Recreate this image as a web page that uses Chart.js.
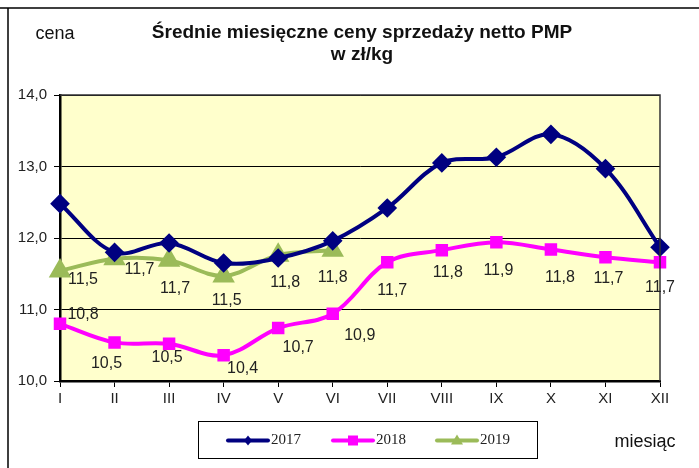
<!DOCTYPE html>
<html>
<head>
<meta charset="utf-8">
<script src="https://cdn.jsdelivr.net/npm/chart.js@4/dist/chart.umd.min.js"></script>
<style>
  html, body { margin: 0; padding: 0; background: #fff; }
  #wrap { width: 699px; height: 468px; position: relative; }
</style>
</head>
<body>
<div id="wrap"><canvas id="wykres" width="699" height="468"></canvas></div>
<script>
// dane
const miesiace = ["I", "II", "III", "IV", "V", "VI", "VII", "VIII", "IX", "X", "XI", "XII"];
const ceny2017 = [12.48, 11.80, 11.93, 11.65, 11.72, 11.96, 12.42, 13.05, 13.13, 13.45, 12.97, 11.87];
const ceny2018 = [10.80, 10.54, 10.52, 10.36, 10.74, 10.94, 11.66, 11.83, 11.94, 11.84, 11.73, 11.66];
const ceny2019 = [11.54, 11.71, 11.69, 11.47, 11.76, 11.83];
const lata = ["2017", "2018", "2019"];
const osY = { min: 10, max: 14, krok: 1 };

const fmt = v => v.toFixed(1).replace(".", ",");

// przesuniecia etykiet (jak w oryginale z Excela)
const przesuniecia = {
  1: [[23,-9],[-8,21],[-2,14],[19,13],[20,20],[27,22],[5,28],[6,22],[2,28],[9,28],[3,21],[0,25]],
  2: [[23,9],[25,11],[6,28],[3,25],[7,27],[0,27]]
};

const dekoracje = {
  id: "dekoracje",
  beforeDraw(chart) {
    const { ctx, chartArea: a } = chart;
    ctx.save();
    ctx.fillStyle = "#fff";
    ctx.fillRect(0, 0, chart.width, chart.height);
    // ramka zewnetrzna
    ctx.strokeStyle = "#000";
    ctx.lineWidth = 1.5;
    ctx.beginPath();
    ctx.moveTo(0, 8); ctx.lineTo(chart.width, 8);
    ctx.moveTo(8, 8); ctx.lineTo(8, chart.height);
    ctx.stroke();
    // tlo obszaru wykresu
    ctx.fillStyle = "#FFFFCC";
    ctx.fillRect(a.left, a.top, a.right - a.left, a.bottom - a.top);
    ctx.restore();
  },
  afterDatasetsDraw(chart) {
    const { ctx, chartArea: a } = chart;
    ctx.save();
    // prawa i gorna krawedz
    ctx.strokeStyle = "#333";
    ctx.lineWidth = 1.5;
    ctx.beginPath();
    ctx.moveTo(a.left, a.top); ctx.lineTo(a.right, a.top); ctx.lineTo(a.right, a.bottom);
    ctx.stroke();
    // etykiety danych
    ctx.font = "16px 'Liberation Sans', Arial, sans-serif";
    ctx.fillStyle = "#222";
    ctx.textAlign = "center";
    ctx.textBaseline = "middle";
    [1, 2].forEach(di => {
      const meta = chart.getDatasetMeta(di);
      meta.data.forEach((pt, i) => {
        const [dx, dy] = przesuniecia[di][i];
        ctx.fillText(fmt(chart.data.datasets[di].data[i]), pt.x + dx, pt.y + dy);
      });
    });
    // tytul
    ctx.fillStyle = "#111";
    ctx.font = "bold 19px 'Liberation Sans', Arial, sans-serif";
    ctx.fillText("Średnie miesięczne ceny sprzedaży netto PMP", 362, 33);
    ctx.fillText("w zł/kg", 362, 55);
    ctx.font = "18px 'Liberation Sans', Arial, sans-serif";
    ctx.fillText("cena", 55, 34);
    ctx.fillText("miesiąc", 645, 442);
    // legenda
    const lx = 198, ly = 421, lw = 339, lh = 37;
    ctx.fillStyle = "#fff";
    ctx.fillRect(lx, ly, lw, lh);
    ctx.strokeStyle = "#000";
    ctx.lineWidth = 1;
    ctx.strokeRect(lx + 0.5, ly + 0.5, lw, lh);
    const cy = ly + lh / 2 + 1;
    const startX = [228, 333, 437];
    chart.data.datasets.forEach((ds, i) => {
      const x0 = startX[i];
      ctx.strokeStyle = ds.borderColor;
      ctx.lineWidth = 4;
      ctx.lineCap = "round";
      ctx.beginPath(); ctx.moveTo(x0, cy); ctx.lineTo(x0 + 40, cy); ctx.stroke();
      ctx.fillStyle = ds.borderColor;
      const mx = x0 + 20;
      ctx.beginPath();
      if (ds.pointStyle === "rectRot") {
        ctx.moveTo(mx, cy - 5); ctx.lineTo(mx + 4, cy); ctx.lineTo(mx, cy + 5); ctx.lineTo(mx - 4, cy);
      } else if (ds.pointStyle === "rect") {
        ctx.rect(mx - 5, cy - 5, 10, 10);
      } else {
        ctx.moveTo(mx, cy - 6); ctx.lineTo(mx + 6, cy + 4); ctx.lineTo(mx - 6, cy + 4);
      }
      ctx.fill();
      ctx.fillStyle = "#222";
      ctx.font = "15px 'Liberation Serif', 'Times New Roman', serif";
      ctx.textAlign = "left";
      ctx.fillText(ds.label, x0 + 43, cy);
    });
    ctx.restore();
  }
};

new Chart(document.getElementById("wykres"), {
  type: "line",
  data: {
    labels: miesiace,
    datasets: [
      {
        label: lata[0],
        data: ceny2017,
        borderColor: "#000080",
        backgroundColor: "#000080",
        borderWidth: 4,
        pointStyle: "rectRot",
        pointRadius: 7,
        tension: 0.35
      },
      {
        label: lata[1],
        data: ceny2018,
        borderColor: "#FF00FF",
        backgroundColor: "#FF00FF",
        borderWidth: 4,
        pointStyle: "rect",
        pointRadius: 6,
        tension: 0.35
      },
      {
        label: lata[2],
        data: ceny2019,
        borderColor: "#9BBB59",
        backgroundColor: "#9BBB59",
        borderWidth: 4,
        pointStyle: "triangle",
        pointRadius: 9,
        tension: 0.35
      }
    ]
  },
  options: {
    responsive: false,
    animation: false,
    layout: { padding: { top: 95, right: 39, bottom: 57, left: 0 } },
    plugins: {
      legend: { display: false },
      tooltip: { enabled: false }
    },
    scales: {
      x: {
        offset: false,
        afterFit: s => { s.height = 30; },
        grid: { drawOnChartArea: false, color: "#000", tickLength: 6, lineWidth: 1 },
        border: { color: "#000", width: 2.5 },
        ticks: { color: "#222", font: { family: "'Liberation Sans', Arial", size: 15 }, padding: 3, maxRotation: 0 }
      },
      y: {
        min: osY.min,
        max: osY.max,
        afterFit: s => { s.width = 60; },
        grid: { color: "#000", tickLength: 6, lineWidth: 1 },
        border: { color: "#000", width: 2.5 },
        ticks: {
          stepSize: osY.krok,
          color: "#222",
          font: { family: "'Liberation Sans', Arial", size: 15 },
          padding: 7,
          callback: v => fmt(v)
        }
      }
    }
  },
  plugins: [dekoracje]
});
</script>
</body>
</html>
